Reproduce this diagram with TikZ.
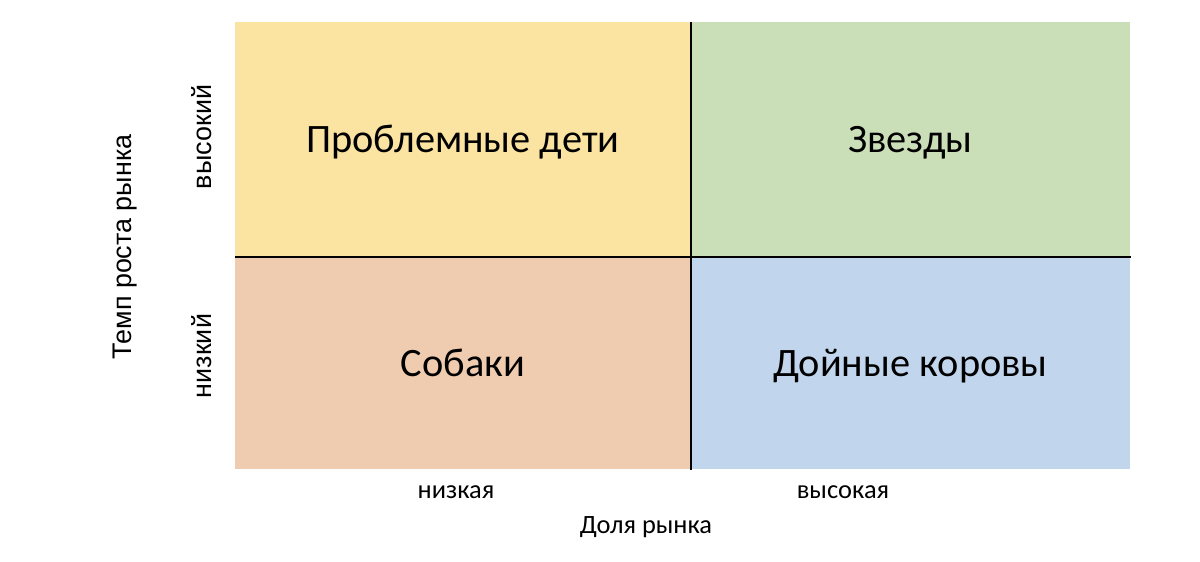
\documentclass[tikz,border=0pt]{standalone}
\usepackage{fontspec}
\setmainfont{Carlito}
\newfontfamily\arialfont{Liberation Sans}
\usetikzlibrary{positioning}
\definecolor{qyellow}{HTML}{FBE3A2}
\definecolor{qgreen}{HTML}{CADFB8}
\definecolor{qpeach}{HTML}{EFCBAF}
\definecolor{qblue}{HTML}{C1D5EC}
\tikzset{
  quad/.style={anchor=north west, inner sep=0pt, text height=35bp, text depth=8bp,
    font=\fontsize{40.5}{48}\selectfont},
  axlab/.style={font=\fontsize{26.5}{32}\selectfont},
  sidelab/.style={font=\arialfont\fontsize{27}{32}\selectfont, rotate=90}
}
\begin{document}
\begin{tikzpicture}[x=1bp, y=-1bp, thick]
    \useasboundingbox (0,0) rectangle (1200,562);
    \node (problem) [quad, fill=qyellow, minimum width=455bp, minimum height=234bp] at (235,22) {Проблемные дети};
    \node (stars) [quad, fill=qgreen, minimum width=440bp, minimum height=234bp] at (690,22) {Звезды};
    \node (dogs) [quad, fill=qpeach, minimum width=455bp, minimum height=213bp] at (235,256) {Собаки};
    \node (cows) [quad, fill=qblue, minimum width=440bp, minimum height=213bp] at (690,256) {Дойные коровы};
    \draw[line width=1.6bp] (problem.north east) -- (dogs.south east);
    \draw[line width=1.6bp] (problem.south west) -- (stars.south east);
    \path node (low) at (456,492) [axlab] {низкая};
    \path node (high) at (843,492) [axlab] {высокая};
    \path node (share) at (646,527) [axlab] {Доля рынка};
    \path node (fast) at (202,137) [sidelab] {высокий};
    \path node (slow) at (202,356) [sidelab] {низкий};
    \path node (growth) at (125,247) [sidelab] {Темп роста рынка};
  \end{tikzpicture}
\end{document}
